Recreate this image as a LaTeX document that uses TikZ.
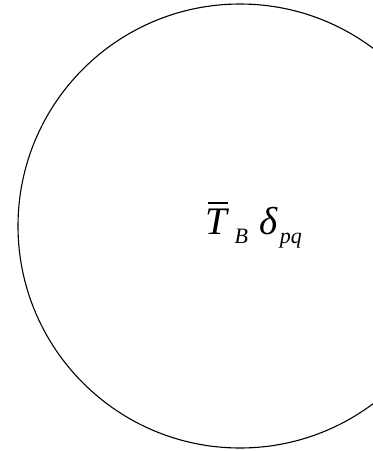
\documentclass[tikz,border=0pt]{standalone}
\usepackage{fontspec}
\setmainfont{Liberation Serif}
\newcommand\mytbar{\leavevmode\rlap{\kern0.06em\rule[0.78em]{0.52em}{0.035em}}\textit{T}}
\newcommand\mysub[1]{\raisebox{-0.25em}{\fontsize{22}{22}\selectfont\textit{#1}}}
\begin{document}
\begin{tikzpicture}[x=1pt,y=-1pt]
\useasboundingbox (0,0) rectangle (373,451);
\clip (0,0) rectangle (373,451);
\draw[line width=1.1pt] (240,226) circle[radius=222pt];
\node[anchor=base west,inner sep=0pt] (lab) at (205,234) {\fontsize{39}{42}\selectfont\mytbar\hspace{0.14em}\mysub{B}\hspace{0.28em}\textit{δ}\hspace{0.06em}\mysub{pq}};
\end{tikzpicture}
\end{document}
